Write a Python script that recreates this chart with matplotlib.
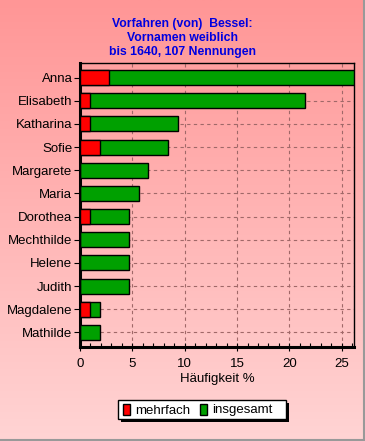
import matplotlib
matplotlib.use("Agg")
import matplotlib.pyplot as plt
import numpy as np
from matplotlib.patches import Rectangle
from matplotlib.colors import LinearSegmentedColormap

names = ["Anna", "Elisabeth", "Katharina", "Sofie", "Margarete", "Maria",
         "Dorothea", "Mechthilde", "Helene", "Judith", "Magdalene", "Mathilde"]
insgesamt = [26.17, 21.50, 9.35, 8.41, 6.54, 5.61, 4.67, 4.67, 4.67, 4.67, 1.87, 1.87]
mehrfach = [2.80, 0.93, 0.93, 1.87, 0, 0, 0.93, 0, 0, 0, 0.93, 0]
xticks = [0, 5, 10, 15, 20, 25]
title = "Vorfahren (von)  Bessel:\nVornamen weiblich\nbis 1640, 107 Nennungen"

plt.rcParams['font.family'] = ['Liberation Sans', 'DejaVu Sans']

W, H = 365, 441
fig = plt.figure(figsize=(W/100, H/100), dpi=100)

# gradient background
bg = fig.add_axes([0, 0, 1, 1], zorder=-10)
grad = np.linspace(0, 1, 256).reshape(-1, 1)
cmap = LinearSegmentedColormap.from_list("g", ["#ff9696", "#ffd4d4"])
bg.imshow(grad, aspect='auto', cmap=cmap, extent=[0, 1, 0, 1], origin='upper')
bg.set_xlim(0, 1); bg.set_ylim(0, 1)
bg.axis('off')
bg.plot([0, 1], [0.002, 0.002], color="#999999", lw=1.5, transform=bg.transAxes)
bg.plot([0.998, 0.998], [0, 1], color="#999999", lw=1.5, transform=bg.transAxes)

ax = fig.add_axes([80/W, 1-347/H, (354-80)/W, (347-63)/H])
ax.patch.set_alpha(0)
y = np.arange(len(names))
ax.barh(y, insgesamt, height=0.65, color="#00a000", edgecolor="black", linewidth=1, zorder=3)
ax.barh(y, mehrfach, height=0.65, color="#ff0000", edgecolor="black", linewidth=1, zorder=4)
ax.set_ylim(len(names) - 0.5 + 0.13, -0.5 - 0.13)
ax.set_xlim(0, 26.17)
ax.set_yticks(y)
ax.set_yticklabels(names, fontsize=9.5)
ax.set_xticks(xticks)
ax.set_xticklabels([str(t) for t in xticks], fontsize=9.5)
ax.set_xticks(np.arange(0, 27, 1), minor=True)
ax.tick_params(axis='x', which='minor', direction='in', length=3, width=0.8)
ax.tick_params(axis='x', which='major', direction='inout', length=6, width=0.8, pad=5)
ax.tick_params(axis='y', which='major', direction='out', length=4, width=0.8, pad=1.5)
ax.grid(True, which='major', linestyle=(0, (3, 3)), color="#a06868", linewidth=0.8, zorder=0)
for s in ['left', 'bottom']:
    ax.spines[s].set_linewidth(2.2)
for s in ['top', 'right']:
    ax.spines[s].set_linewidth(1)
ax.set_xlabel("Häufigkeit %", fontsize=9.5, labelpad=2)

fig.text(0.5, 1-38/H, title, ha='center', va='center', color="#0000e0",
         fontsize=8.8, fontweight='bold', linespacing=1.2)

# legend with shadow
lx, ly, lw, lh = 118/W, 1-419/H, 168/W, 19/H
shadow = Rectangle((lx+3/W, ly-3/H), lw, lh, transform=fig.transFigure,
                   facecolor="black", edgecolor="none", zorder=5)
box = Rectangle((lx, ly), lw, lh, transform=fig.transFigure,
                facecolor="white", edgecolor="black", lw=1, zorder=6)
fig.patches.extend([shadow, box])
for (x0, col, lab) in [(123, "#ff0000", "mehrfach"), (200, "#00a000", "insgesamt")]:
    r = Rectangle((x0/W, 1-415/H), 7/W, 11/H, transform=fig.transFigure,
                  facecolor=col, edgecolor="black", lw=1, zorder=7)
    fig.patches.append(r)
    fig.text((x0+12)/W, 1-410.5/H, lab, fontsize=9.5, va='center', ha='left', zorder=8)

fig.savefig("out.png", dpi=100)
